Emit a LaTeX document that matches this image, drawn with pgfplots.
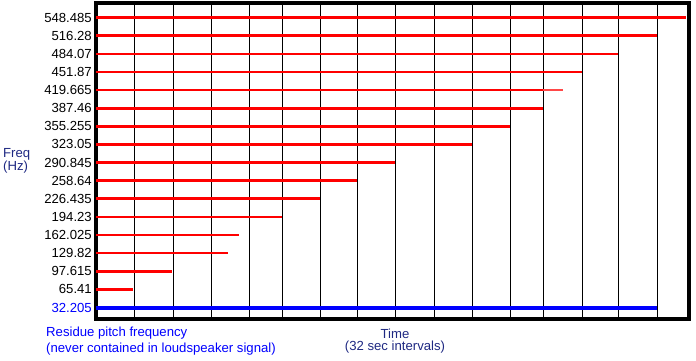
\documentclass[border=0pt]{standalone}
\usepackage{fontspec}
\setmainfont{Liberation Sans}
\usepackage{pgfplots}
\pgfplotsset{compat=1.18}
\definecolor{navy}{RGB}{30,40,130}
\begin{document}
\begin{tikzpicture}[x=1bp,y=1bp]
\useasboundingbox (0,0) rectangle (696,360);
\begin{axis}[
  at={(96bp,41bp)}, anchor=south west,
  scale only axis, width=593bp, height=316bp,
  xmin=0, xmax=593, ymin=12.6, ymax=574.6,
  axis line style={line width=4bp},
  xtick={77,115,224,299,414,447,522},
  xticklabels={},
  extra x ticks={38,153,186,261,338,376,486,561},
  extra x tick labels={},
  extra x tick style={grid style={black!45, line width=1.1bp}},
  xmajorgrids,
  major grid style={black, line width=1bp},
  major tick length=0pt,
  ytick={32.205,65.41,97.615,129.82,162.025,194.23,226.435,258.64,290.845,323.05,355.255,387.46,419.665,451.87,484.07,516.28,548.485},
  yticklabels={{\color{blue}32.205},65.41,97.615,129.82,162.025,194.23,226.435,258.64,290.845,323.05,355.255,387.46,419.665,451.87,484.07,516.28,548.485},
  yticklabel style={font=\fontsize{13.2}{15}\selectfont, inner sep=0pt, xshift=-4bp},
  clip=false,
]
\addplot[red, line width=2.6bp] coordinates {(0,548.485) (590,548.485)};
\addplot[red, line width=2.6bp] coordinates {(0,516.28) (561,516.28)};
\addplot[red, line width=2.6bp] coordinates {(0,484.07) (522,484.07)};
\addplot[red, line width=2.6bp] coordinates {(0,451.87) (486,451.87)};
\addplot[red, line width=2.6bp] coordinates {(0,419.665) (447,419.665)};
\addplot[red!72, line width=2.6bp] coordinates {(447,419.665) (467,419.665)};
\addplot[red, line width=2.6bp] coordinates {(0,387.46) (447,387.46)};
\addplot[red, line width=2.6bp] coordinates {(0,355.255) (414,355.255)};
\addplot[red, line width=2.6bp] coordinates {(0,323.05) (376,323.05)};
\addplot[red, line width=2.6bp] coordinates {(0,290.845) (299,290.845)};
\addplot[red, line width=2.6bp] coordinates {(0,258.64) (261,258.64)};
\addplot[red, line width=2.6bp] coordinates {(0,226.435) (224,226.435)};
\addplot[red, line width=2.6bp] coordinates {(0,194.23) (186,194.23)};
\addplot[red, line width=2.6bp] coordinates {(0,162.025) (143,162.025)};
\addplot[red, line width=2.6bp] coordinates {(0,129.82) (132,129.82)};
\addplot[red, line width=2.6bp] coordinates {(0,97.615) (76,97.615)};
\addplot[red, line width=2.6bp] coordinates {(0,65.41) (37,65.41)};
\addplot[blue, line width=4.2bp] coordinates {(0,32.205) (561,32.205)};
\end{axis}
\node[anchor=west, text=navy, align=left, font=\fontsize{13.2}{13}\selectfont, inner sep=0pt] at (3,199.5) {Freq\\(Hz)};
\node[anchor=west, text=blue, align=left, font=\fontsize{13.2}{16}\selectfont, inner sep=0pt] at (46,19) {Residue pitch frequency\\(never contained in loudspeaker signal)};
\node[text=navy, align=center, font=\fontsize{13.2}{12}\selectfont, inner sep=0pt] at (395,19) {Time\\(32 sec intervals)};
\end{tikzpicture}
\end{document}
